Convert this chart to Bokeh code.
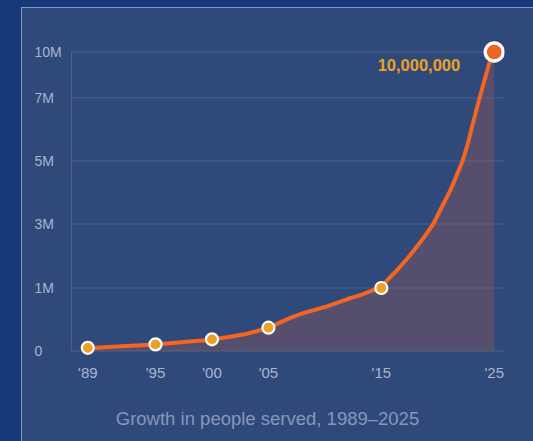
import numpy as np
from bokeh.plotting import figure
from bokeh.models import ColumnDataSource, FixedTicker
from bokeh.core.properties import value
from bokeh.embed import file_html
from bokeh.resources import INLINE

# ---- data ----
milestone_years = [1989, 1995, 2000, 2005, 2015, 2025]
milestone_people = [50_000, 105_000, 185_000, 370_000, 1_000_000, 10_000_000]
milestone_labels = ["'89", "'95", "'00", "'05", "'15", "'25"]

curve_years = [1989, 1992, 1995, 1998, 2000, 2003, 2005, 2006, 2007, 2008,
               2010, 2012, 2013, 2015, 2015.5, 2016.5, 2017.4, 2018.5, 2019.6,
               2020.3, 2021.1, 2021.6, 2022.2, 2022.7, 2023.1, 2023.7, 2024.3,
               2024.8, 2025]
curve_people = [45_000, 75_000, 105_000, 150_000, 180_000, 270_000, 365_000,
                450_000, 530_000, 598_000, 698_000, 825_000, 880_000, 1_030_000,
                1_234_000, 1_600_000, 1_960_000, 2_450_000, 3_000_000,
                3_500_000, 4_060_000, 4_480_000, 5_000_000, 5_600_000,
                6_180_000, 7_000_000, 8_580_000, 9_880_000, 10_000_000]

y_tick_people = [0, 1_000_000, 3_000_000, 5_000_000, 7_000_000, 10_000_000]
y_tick_labels = ["0", "1M", "3M", "5M", "7M", "10M"]
# the chart's own (uneven) axis layout: where each break sits on the axis
y_tick_spacing = [0, 63, 127, 190, 253, 299]

TITLE = "Growth in people served, 1989\u20132025"

FONT = "Liberation Sans"
LABEL_COLOR = "#a9b4cf"
GRID_COLOR = "#ffffff"
ORANGE = "#f26522"
AMBER = "#eba224"

X_START, X_END = 1983.925, 2025.91   # visible x window (years)
GRID_START = 1987.556                # where the value axis sits


def to_axis(people):
    return np.interp(people, y_tick_people, y_tick_spacing)


curve_src = ColumnDataSource(dict(year=curve_years, people=curve_people,
                                  y=to_axis(curve_people)))
ms_src = ColumnDataSource(dict(year=milestone_years[:-1],
                               people=milestone_people[:-1],
                               y=to_axis(milestone_people[:-1])))
last_src = ColumnDataSource(dict(year=milestone_years[-1:],
                                 people=milestone_people[-1:],
                                 y=to_axis(milestone_people[-1:]),
                                 label=[f"{milestone_people[-1]:,}"]))
ytick_src = ColumnDataSource(dict(pos=to_axis(y_tick_people), text=y_tick_labels,
                                  x0=[GRID_START] * len(y_tick_people),
                                  x1=[X_END] * len(y_tick_people)))

p = figure(width=533, height=441, output_backend="svg", toolbar_location=None,
           x_range=(X_START, X_END), y_range=(-7.5, 314.5),
           min_border_left=30, min_border_right=29, min_border_top=36,
           min_border_bottom=83,
           background_fill_color=None, border_fill_color=None,
           outline_line_color=None)

# x axis (its label carries the chart caption)
p.xaxis.ticker = FixedTicker(ticks=milestone_years)
p.xaxis.major_label_overrides = {y: l for y, l in zip(milestone_years, milestone_labels)}
p.xaxis.axis_line_color = None
p.xaxis.major_tick_line_color = None
p.xaxis.minor_tick_line_color = None
p.xaxis.major_tick_out = 0
p.xaxis.major_tick_in = 0
p.xaxis.major_label_standoff = 5
p.xaxis.major_label_text_color = LABEL_COLOR
p.xaxis.major_label_text_font = FONT
p.xaxis.major_label_text_font_size = "15px"
p.xaxis.axis_label = TITLE
p.xaxis.axis_label_standoff = 24
p.xaxis.axis_label_text_font = FONT
p.xaxis.axis_label_text_font_size = "18.5px"
p.xaxis.axis_label_text_font_style = "normal"
p.xaxis.axis_label_text_color = "#8797bd"
p.xgrid.grid_line_color = None

# value axis: left-aligned labels, gridlines starting at the axis line
p.yaxis.visible = False
p.ygrid.grid_line_color = None
p.segment(x0="x0", y0="pos", x1="x1", y1="pos", source=ytick_src,
          line_color=GRID_COLOR, line_alpha=0.13, line_width=1)
p.segment(x0=[GRID_START], y0=[y_tick_spacing[0]], x1=[GRID_START],
          y1=[y_tick_spacing[-1]], line_color=GRID_COLOR, line_alpha=0.13,
          line_width=1)
p.text(x="x0", y="pos", text="text", source=ytick_src, x_offset=-37,
       text_align="left", text_baseline="middle", text_font=value(FONT),
       text_font_size="14px", text_color=LABEL_COLOR)

# area + line
p.varea(x="year", y1=0, y2="y", source=curve_src, fill_color="#e0603a", fill_alpha=0.22)
p.line(x="year", y="y", source=curve_src, line_width=4, line_color=ORANGE,
       line_cap="round", line_join="round")

# markers
p.scatter(x="year", y="y", source=ms_src, size=12, fill_color=AMBER,
          line_color="white", line_width=2.2)
p.scatter(x="year", y="y", source=last_src, size=18, fill_color="#ef6423",
          line_color="white", line_width=3.3)
p.text(x="year", y="y", text="label", source=last_src, x_offset=-34, y_offset=13,
       text_align="right", text_baseline="middle", text_font=value(FONT),
       text_font_style="bold", text_font_size="16.5px", text_color=AMBER)

html = file_html(p, INLINE, title="Growth in people served")
css = ("<style>html{height:100%;background:"
       "linear-gradient(#8797c2,#8797c2) 21px 7px/100% 1px no-repeat,"
       "linear-gradient(#8797c2,#8797c2) 21px 7px/1px 100% no-repeat,"
       "linear-gradient(#17397a,#17397a) 0 0/100% 7px no-repeat,"
       "linear-gradient(#17397a,#17397a) 0 0/21px 100% no-repeat,"
       "#2f4a7a;} body{background:transparent;}</style>")
html = html.replace("</head>", css + "</head>", 1)
open("out.html", "w").write(html)
